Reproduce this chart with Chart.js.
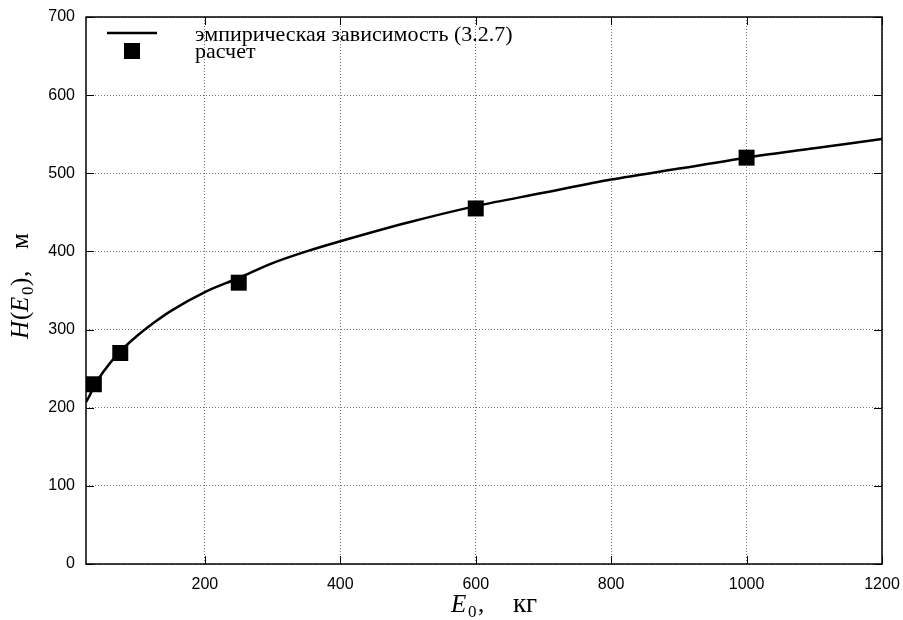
<!DOCTYPE html>
<html>
<head>
<meta charset="utf-8">
<script src="https://cdn.jsdelivr.net/npm/chart.js@4"></script>
<style>
  html, body { margin: 0; padding: 0; background: #fff; }
  #wrap { width: 903px; height: 620px; }
</style>
</head>
<body>
<div id="wrap"><canvas id="chart" width="903" height="620"></canvas></div>
<script>
// эмпирическая кривая
const curveE = [24.4, 30, 36, 50, 75, 100, 125, 150, 200, 250, 300, 350, 400, 500, 600, 700, 800, 900, 1000, 1100, 1200];
const curveH = [207, 216, 227, 246, 272, 292, 309, 324, 348, 366, 385, 400, 413, 437, 458, 475, 492, 506, 520, 532, 544];

// расчетные точки
const calcE = [36, 75, 250, 600, 1000];
const calcH = [230, 270, 360, 455, 520];

const xTicks = [200, 400, 600, 800, 1000, 1200];
const yTicks = [0, 100, 200, 300, 400, 500, 600, 700];

const legendLabels = ['эмпирическая зависимость (3.2.7)', 'расчет'];

const serif = '"Liberation Serif", "DejaVu Serif", serif';
const sans = '"Liberation Sans", Arial, sans-serif';

// пишет куски текста по заданным смещениям
function drawPieces(ctx, x0, y0, pieces) {
    pieces.forEach(p => {
        ctx.font = p.font;
        ctx.fillText(p.t, x0 + p.dx, y0 + (p.dy || 0));
    });
}

// подписи осей, легенда и внутренние засечки
const decorPlugin = {
    id: 'decor',
    afterDraw(chart) {
        const ctx = chart.ctx;
        const a = chart.chartArea;
        const xs = chart.scales.x, ys = chart.scales.y;
        ctx.save();

        // засечки внутрь
        ctx.strokeStyle = '#000';
        ctx.lineWidth = 1;
        ctx.beginPath();
        xTicks.forEach(v => {
            const px = Math.round(xs.getPixelForValue(v)) + 0.5;
            ctx.moveTo(px, a.bottom); ctx.lineTo(px, a.bottom - 8);
            ctx.moveTo(px, a.top); ctx.lineTo(px, a.top + 8);
        });
        yTicks.forEach(v => {
            const py = Math.round(ys.getPixelForValue(v)) + 0.5;
            ctx.moveTo(a.left, py); ctx.lineTo(a.left + 8, py);
            ctx.moveTo(a.right, py); ctx.lineTo(a.right - 8, py);
        });
        ctx.stroke();

        // рамка
        ctx.lineWidth = 1.5;
        ctx.strokeRect(a.left, a.top, a.right - a.left, a.bottom - a.top);

        // легенда
        ctx.lineWidth = 2.5;
        ctx.beginPath();
        ctx.moveTo(107, 33); ctx.lineTo(157, 33);
        ctx.stroke();
        ctx.fillStyle = '#000';
        ctx.fillRect(124, 43, 16, 16);
        ctx.textBaseline = 'alphabetic';
        ctx.textAlign = 'left';
        ctx.font = '22px ' + serif;
        ctx.fillText(legendLabels[0], 195, 41);
        ctx.fillText(legendLabels[1], 195, 58);

        // подпись оси X: E_0, кг
        const big = '25px ' + serif, bigIt = 'italic 25px ' + serif, sub = '17px ' + serif;
        drawPieces(ctx, 451, 612, [
            { t: 'E', font: bigIt, dx: 0 },
            { t: '0', font: sub, dx: 17, dy: 5 },
            { t: ',', font: big, dx: 27 },
            { t: 'кг', font: '27px ' + serif, dx: 62 }
        ]);

        // подпись оси Y: H(E_0), м
        ctx.translate(28, 339);
        ctx.rotate(-Math.PI / 2);
        drawPieces(ctx, 0, 0, [
            { t: 'H', font: bigIt, dx: 0 },
            { t: '(', font: big, dx: 19 },
            { t: 'E', font: bigIt, dx: 27 },
            { t: '0', font: sub, dx: 44, dy: 5 },
            { t: ')', font: big, dx: 53 },
            { t: ',', font: big, dx: 62 },
            { t: 'м', font: big, dx: 90 }
        ]);

        ctx.restore();
    }
};

const ctx = document.getElementById('chart').getContext('2d');
new Chart(ctx, {
    type: 'line',
    data: {
        datasets: [{
            label: legendLabels[0],
            data: curveE.map((e, i) => ({ x: e, y: curveH[i] })),
            borderColor: '#000',
            borderWidth: 2.5,
            pointRadius: 0,
            cubicInterpolationMode: 'monotone',
            fill: false
        }, {
            label: legendLabels[1],
            type: 'scatter',
            data: calcE.map((e, i) => ({ x: e, y: calcH[i] })),
            pointStyle: 'rect',
            pointRadius: 11.3,
            backgroundColor: '#000',
            borderColor: '#000',
            borderWidth: 0
        }]
    },
    options: {
        responsive: false,
        animation: false,
        layout: { padding: { top: 17, right: 21, left: 0, bottom: 0 } },
        plugins: { legend: { display: false }, tooltip: { enabled: false } },
        scales: {
            x: {
                type: 'linear',
                min: 24.4,
                max: 1200,
                afterBuildTicks(s) { s.ticks = xTicks.map(v => ({ value: v })); },
                afterFit(s) { s.height = 56; s.paddingLeft = 0; s.paddingRight = 0; },
                grid: { color: '#777', lineWidth: 1, drawTicks: false },
                border: { display: false, dash: [1, 2] },
                ticks: {
                    color: '#000', font: { family: sans, size: 16 }, padding: 11, maxRotation: 0,
                    callback: v => String(v)
                }
            },
            y: {
                min: 0,
                max: 700,
                afterBuildTicks(s) { s.ticks = yTicks.map(v => ({ value: v })); },
                afterFit(s) { s.width = 86; s.paddingTop = 0; s.paddingBottom = 0; },
                grid: { color: '#777', lineWidth: 1, drawTicks: false },
                border: { display: false, dash: [1, 2] },
                ticks: {
                    color: '#000', font: { family: sans, size: 16 }, padding: 11,
                    callback: v => String(v)
                }
            }
        }
    },
    plugins: [decorPlugin]
});
</script>
</body>
</html>
